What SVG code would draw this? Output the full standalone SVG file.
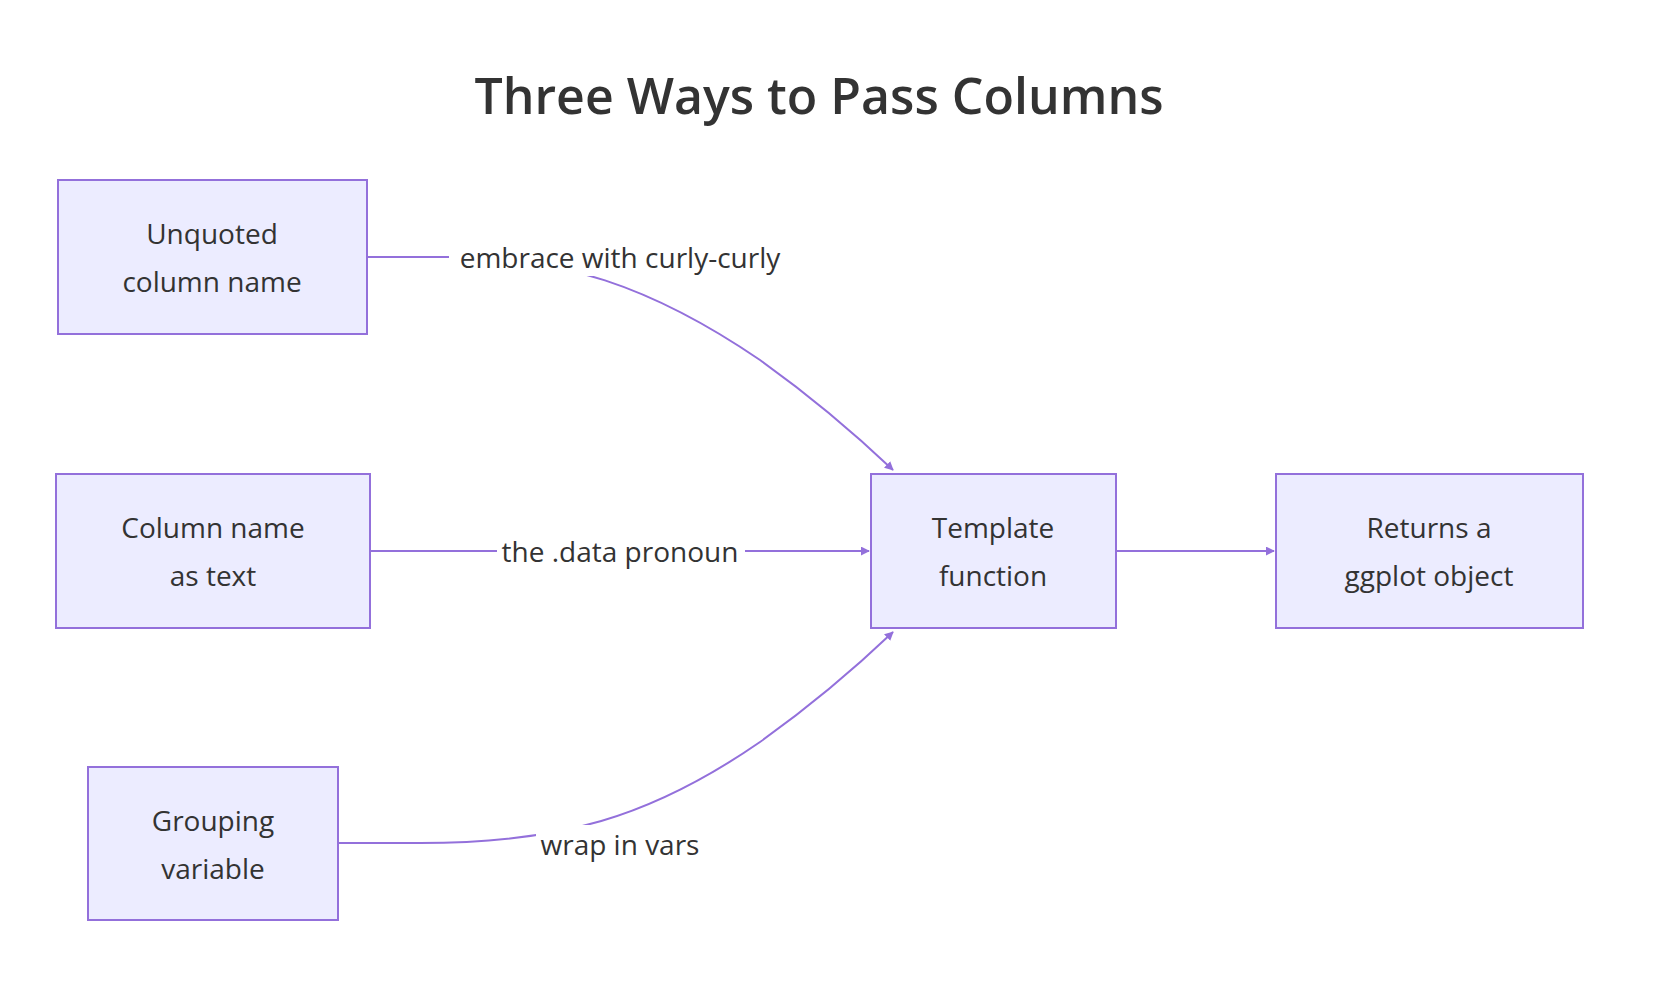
<svg xmlns="http://www.w3.org/2000/svg" width="1656" height="986" viewBox="0 0 1656 986">
<style>
.n rect{fill:#ECECFF;stroke:#9370DB;stroke-width:2}
.t{font-family:"Open Sans","Liberation Sans",sans-serif;font-size:28px;fill:#333;text-anchor:middle}
.e{fill:none;stroke:#9370DB;stroke-width:2}
.lb{fill:#fff}
</style>
<defs><marker id="ar" viewBox="0 0 10 10" refX="9" refY="5" markerWidth="9" markerHeight="9" markerUnits="userSpaceOnUse" orient="auto"><path d="M0,0L10,5L0,10z" fill="#9370DB"/></marker></defs>
<rect width="1656" height="986" fill="#fff"/>
<text x="819" y="114" style="font-family:'Open Sans','Liberation Sans',sans-serif;font-size:50px;fill:#333;text-anchor:middle;font-weight:600">Three Ways to Pass Columns</text>
<g id="connectors">
<path class="e" d="M367,257 L450,257 C560,257 650,285 760,360 Q830,410 893,470" marker-end="url(#ar)"/>
<path class="e" d="M370,551 L869,551" marker-end="url(#ar)"/>
<path class="e" d="M338,843 L420,843 C560,843 650,818 760,742 Q830,692 893,632" marker-end="url(#ar)"/>
<path class="e" d="M1116,551 L1274,551" marker-end="url(#ar)"/>
<rect class="lb" x="449" y="238" width="342" height="38"/>
<text class="t" x="620" y="268">embrace with curly-curly</text>
<rect class="lb" x="497" y="532" width="248" height="38"/>
<text class="t" x="620" y="562">the .data pronoun</text>
<rect class="lb" x="536" y="825" width="168" height="38"/>
<text class="t" x="620" y="855">wrap in vars</text>
</g>
<g id="A" class="n"><rect x="58" y="180" width="309" height="154"/><text class="t" x="212" y="244">Unquoted</text><text class="t" x="212" y="292">column name</text></g>
<g id="B" class="n"><rect x="56" y="474" width="314" height="154"/><text class="t" x="213" y="538">Column name</text><text class="t" x="213" y="586">as text</text></g>
<g id="C" class="n"><rect x="88" y="767" width="250" height="153"/><text class="t" x="213" y="831">Grouping</text><text class="t" x="213" y="879">variable</text></g>
<g id="T" class="n"><rect x="871" y="474" width="245" height="154"/><text class="t" x="993" y="538">Template</text><text class="t" x="993" y="586">function</text></g>
<g id="R" class="n"><rect x="1276" y="474" width="307" height="154"/><text class="t" x="1429" y="538">Returns a</text><text class="t" x="1429" y="586">ggplot object</text></g>
</svg>
